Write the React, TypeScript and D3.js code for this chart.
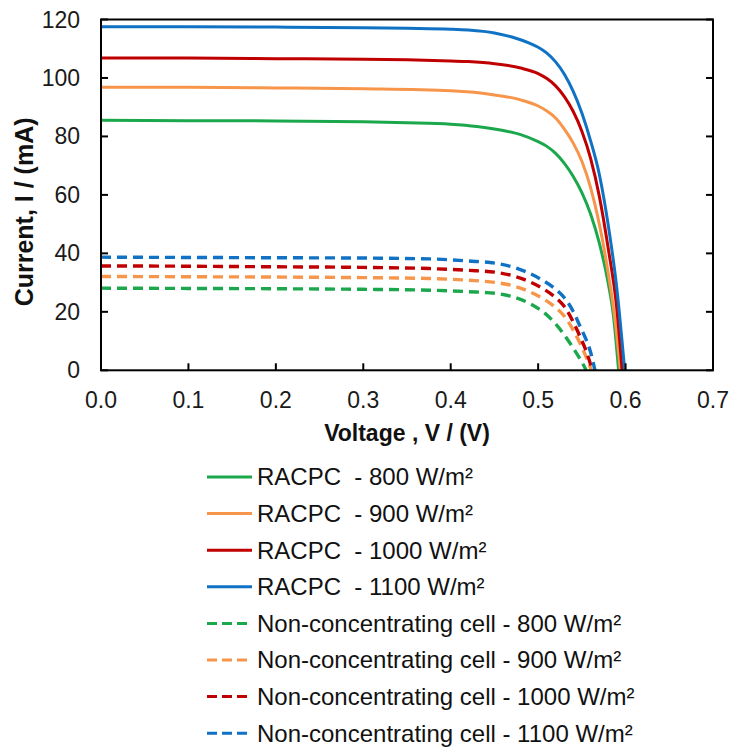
import React from "react";
import * as d3 from "d3";

// I–V curves: [voltage (V), current (mA)]
const racpc800: [number, number][] = [
  [0, 85.5], [0.1, 85.4], [0.2, 85.3], [0.3, 85.0], [0.35, 84.7], [0.4, 84.2], [0.43, 83.4],
  [0.46, 82.0], [0.48, 80.6], [0.5, 78.2], [0.51, 76.6], [0.52, 74.2], [0.53, 70.8], [0.54, 66.4],
  [0.55, 60.8], [0.56, 53.5], [0.57, 43.5], [0.58, 30], [0.586, 19], [0.592, 0],
];
const racpc900: [number, number][] = [
  [0, 96.8], [0.1, 96.8], [0.2, 96.6], [0.3, 96.3], [0.4, 95.6], [0.45, 94.2], [0.48, 92.5],
  [0.5, 90.4], [0.51, 88.7], [0.52, 86.3], [0.53, 82.5], [0.54, 77.8], [0.55, 71.5], [0.56, 62.5],
  [0.57, 50], [0.58, 33.5], [0.588, 17], [0.594, 0],
];
const racpc1000: [number, number][] = [
  [0, 106.8], [0.1, 106.8], [0.2, 106.6], [0.3, 106.4], [0.35, 106.2], [0.4, 105.8], [0.42, 105.6],
  [0.45, 104.9], [0.48, 103.4], [0.5, 101.5], [0.51, 99.8], [0.52, 97.3], [0.53, 93.6], [0.54, 88.6],
  [0.55, 81.8], [0.56, 72.5], [0.57, 59.5], [0.58, 42], [0.59, 21], [0.596, 0],
];
const racpc1100: [number, number][] = [
  [0, 117.5], [0.1, 117.5], [0.2, 117.4], [0.3, 117.2], [0.35, 117.0], [0.4, 116.7], [0.42, 116.4],
  [0.45, 115.4], [0.47, 114.0], [0.49, 111.9], [0.5, 110.5], [0.51, 108.5], [0.52, 105.5],
  [0.53, 101.3], [0.54, 95.5], [0.55, 88], [0.56, 78.5], [0.57, 67], [0.58, 50], [0.59, 28],
  [0.599, 0],
];
const flat800: [number, number][] = [
  [0, 28.1], [0.1, 28.0], [0.2, 27.9], [0.3, 27.7], [0.376, 27.4], [0.42, 26.9], [0.452, 26.3],
  [0.47, 25.2], [0.49, 22.9], [0.51, 18.9], [0.5285, 12.7], [0.537, 9.0], [0.544, 5.8],
  [0.55, 2.8], [0.555, 0],
];
const flat900: [number, number][] = [
  [0, 32.1], [0.1, 32.0], [0.2, 31.9], [0.3, 31.7], [0.376, 31.4], [0.42, 30.8], [0.452, 30.0],
  [0.47, 29.0], [0.49, 26.9], [0.505, 24.6], [0.521, 21.2], [0.53, 18.5], [0.54, 13.8],
  [0.548, 9.2], [0.555, 4.5], [0.561, 0],
];
const flat1000: [number, number][] = [
  [0, 35.7], [0.1, 35.6], [0.2, 35.4], [0.3, 35.2], [0.376, 34.8], [0.42, 34.2], [0.452, 33.5],
  [0.47, 32.4], [0.49, 30.3], [0.505, 28.0], [0.521, 24.6], [0.53, 21.8], [0.54, 16.6],
  [0.548, 11.5], [0.555, 6.5], [0.562, 0],
];
const flat1100: [number, number][] = [
  [0, 38.7], [0.1, 38.6], [0.2, 38.5], [0.3, 38.4], [0.376, 38.1], [0.42, 37.4], [0.452, 36.6],
  [0.47, 35.4], [0.49, 33.2], [0.505, 30.8], [0.521, 27.5], [0.53, 24.8], [0.54, 20.2],
  [0.548, 15], [0.555, 10.4], [0.56, 6.2], [0.565, 0],
];

const xTicks = [0, 0.1, 0.2, 0.3, 0.4, 0.5, 0.6, 0.7];
const yTicks = [0, 20, 40, 60, 80, 100, 120];

const legendLabels = [
  "RACPC  - 800 W/m²",
  "RACPC  - 900 W/m²",
  "RACPC  - 1000 W/m²",
  "RACPC  - 1100 W/m²",
  "Non-concentrating cell - 800 W/m²",
  "Non-concentrating cell - 900 W/m²",
  "Non-concentrating cell - 1000 W/m²",
  "Non-concentrating cell - 1100 W/m²",
];

const GREEN = "#1ba84c";
const ORANGE = "#f7964a";
const RED = "#c00000";
const BLUE = "#0f72c4";

const series = [
  { data: racpc800, color: GREEN, dashed: false },
  { data: racpc900, color: ORANGE, dashed: false },
  { data: racpc1000, color: RED, dashed: false },
  { data: racpc1100, color: BLUE, dashed: false },
  { data: flat800, color: GREEN, dashed: true },
  { data: flat900, color: ORANGE, dashed: true },
  { data: flat1000, color: RED, dashed: true },
  { data: flat1100, color: BLUE, dashed: true },
];

const W = 732;
const H = 749;
const plot = { left: 101, right: 713, top: 19.5, bottom: 370.3 };
const FONT = "'Liberation Sans', Arial, Helvetica, sans-serif";

export default function App() {
  const x = d3.scaleLinear().domain([0, 0.7]).range([plot.left, plot.right]);
  const y = d3.scaleLinear().domain([0, 120]).range([plot.bottom, plot.top]);
  const line = d3
    .line<[number, number]>()
    .x((d) => x(d[0]))
    .y((d) => y(d[1]))
    .curve(d3.curveMonotoneX);
  const fmt = d3.format(".1f");
  const tickLen = 7;

  const legendX0 = 207;
  const legendX1 = 252;
  const legendTextX = 257;
  const legendY0 = 477;
  const legendStep = 36.6;

  return (
    <svg
      width={W}
      height={H}
      style={{ position: "absolute", left: 0, top: 0, background: "#fff" }}
      fontFamily={FONT}
    >
      <rect x={0} y={0} width={W} height={H} fill="#fff" />

      {/* curves */}
      <g fill="none">
        {series.map((s, i) => (
          <path
            key={i}
            d={line(s.data) || ""}
            stroke={s.color}
            strokeWidth={s.dashed ? 3.4 : 3}
            strokeDasharray={s.dashed ? "10,6" : undefined}
          />
        ))}
      </g>

      {/* frame */}
      <rect
        x={plot.left}
        y={plot.top}
        width={plot.right - plot.left}
        height={plot.bottom - plot.top}
        fill="none"
        stroke="#000"
        strokeWidth={2}
      />

      {/* ticks: left and right y ticks and bottom x ticks, all pointing inward */}
      <g stroke="#000" strokeWidth={2}>
        {yTicks.map((t) => (
          <g key={t}>
            <line x1={plot.left} x2={plot.left + tickLen} y1={y(t)} y2={y(t)} />
            <line x1={plot.right} x2={plot.right - tickLen} y1={y(t)} y2={y(t)} />
          </g>
        ))}
        {xTicks.map((t) => (
          <line key={t} x1={x(t)} x2={x(t)} y1={plot.bottom} y2={plot.bottom - tickLen} />
        ))}
      </g>

      <g fontSize={23} fill="#1a1a1a">
        {yTicks.map((t) => (
          <text key={t} x={80} y={y(t)} dy="0.35em" textAnchor="end">
            {t}
          </text>
        ))}
        {xTicks.map((t) => (
          <text key={t} x={x(t)} y={408} textAnchor="middle">
            {fmt(t)}
          </text>
        ))}
      </g>

      <text
        x={x(0.35)}
        y={441}
        textAnchor="middle"
        fontSize={23}
        fontWeight="bold"
        fill="#111"
        style={{ whiteSpace: "pre" }}
      >
        Voltage , V / (V)
      </text>
      <text
        transform={`translate(33, ${(plot.top + plot.bottom) / 2 + 17}) rotate(-90)`}
        textAnchor="middle"
        fontSize={25}
        fontWeight="bold"
        fill="#111"
      >
        Current, I / (mA)
      </text>

      {/* legend */}
      <g>
        {series.map((s, i) => {
          const ly = legendY0 + i * legendStep;
          return (
            <g key={i}>
              <line
                x1={legendX0}
                x2={legendX1}
                y1={ly}
                y2={ly}
                stroke={s.color}
                strokeWidth={3}
                strokeDasharray={s.dashed ? "10,5" : undefined}
              />
              <text
                x={legendTextX}
                y={ly}
                dy="0.35em"
                fontSize={24}
                fill="#111"
                style={{ whiteSpace: "pre" }}
              >
                {legendLabels[i]}
              </text>
            </g>
          );
        })}
      </g>
    </svg>
  );
}
